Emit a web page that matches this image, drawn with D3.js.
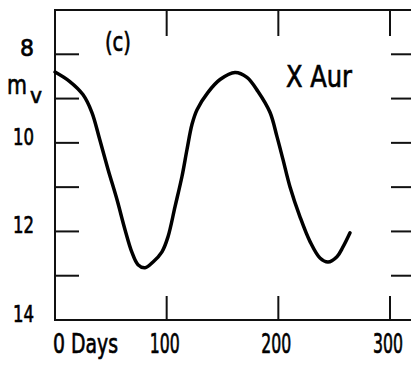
<!DOCTYPE html>
<html><head><meta charset="utf-8">
<script src="https://cdn.jsdelivr.net/npm/d3@7"></script>
<style>html,body{margin:0;padding:0;background:#fff;}svg{display:block;}</style>
</head><body>
<script>
const days = [0, 13, 25, 33, 40, 47.5, 55.5, 62.7, 69, 74.3, 80.6, 87.8, 95.8, 101.2, 107.5, 113.7, 118.2, 122.7, 127.2, 137, 147.8, 161.2, 171.9, 181.8, 192.5, 198.8, 204.2, 210.4, 219.4, 228.4, 237.3, 244.5, 252.5, 257.9, 264.2];
const mags = [8.40, 8.61, 8.91, 9.31, 9.92, 10.60, 11.28, 11.96, 12.48, 12.75, 12.82, 12.69, 12.46, 12.12, 11.44, 10.76, 10.15, 9.58, 9.25, 8.86, 8.57, 8.41, 8.52, 8.84, 9.31, 9.86, 10.38, 10.99, 11.67, 12.23, 12.60, 12.69, 12.57, 12.35, 12.03];
const xTicks = [100, 200, 300];
const xTickLabels = ["100", "200", "300"];
const yTicks = [8, 9, 10, 11, 12, 13];
const yTickLabels = [8, 10, 12, 14];

const W = 411, H = 366;
const svg = d3.select("body").append("svg").attr("width", W).attr("height", H);
svg.append("rect").attr("width", W).attr("height", H).attr("fill", "#fff");

const x = d3.scaleLinear().domain([0, 300]).range([55, 390]);
const y = d3.scaleLinear().domain([7, 14]).range([10, 320]);
const xRight = 415, tl = 24;
const font = "'DejaVu Sans',sans-serif";

// narrow text helper: width forced via textLength
function ntext(parent, str, xx, yy, size, width, anchor) {
  return parent.append("text").attr("x", xx).attr("y", yy)
    .attr("text-anchor", anchor || "start")
    .attr("font-family", font).attr("font-size", size).attr("fill", "#000")
    .attr("stroke", "#000").attr("stroke-width", 0.7)
    .attr("textLength", width).attr("lengthAdjust", "spacingAndGlyphs").text(str);
}

// frame
svg.append("rect").attr("x", x(0)).attr("y", y(7)).attr("width", xRight - x(0)).attr("height", y(14) - y(7))
  .attr("fill", "none").attr("stroke", "#111").attr("stroke-width", 2);

const g = svg.append("g").attr("stroke", "#111").attr("stroke-width", 2);
yTicks.forEach(v => {
  g.append("line").attr("x1", x(0)).attr("x2", x(0) + tl).attr("y1", y(v)).attr("y2", y(v));
  g.append("line").attr("x1", xRight).attr("x2", xRight - tl).attr("y1", y(v)).attr("y2", y(v));
});
xTicks.forEach(v => {
  g.append("line").attr("x1", x(v)).attr("x2", x(v)).attr("y1", y(14)).attr("y2", y(14) - tl);
  g.append("line").attr("x1", x(v)).attr("x2", x(v)).attr("y1", y(7)).attr("y2", y(7) + 26);
});

// curve
const line = d3.line().x((d, i) => x(days[i])).y((d, i) => y(mags[i])).curve(d3.curveCatmullRom.alpha(0.5));
svg.append("path").datum(days).attr("d", line).attr("fill", "none").attr("stroke", "#000")
  .attr("stroke-width", 3.5).attr("stroke-linecap", "round").attr("stroke-linejoin", "round");

// y labels
yTickLabels.forEach(d => {
  const s = String(d);
  ntext(svg, s, 34, y(d) + 2, 23, s.length === 1 ? 14 : 21, "end");
});

// m_v
ntext(svg, "m", 7, 94, 27, 20);
ntext(svg, "v", 30, 103, 22, 12);

// x labels
ntext(svg, "0 Days", 53, 353, 27, 65);
xTicks.forEach((d, i) => ntext(svg, xTickLabels[i], x(d) - 2, 353, 27, 30, "middle"));

// annotations
ntext(svg, "(c)", 105, 51, 26, 26);
ntext(svg, "X Aur", 286, 87, 30, 66);
</script>
</body></html>
